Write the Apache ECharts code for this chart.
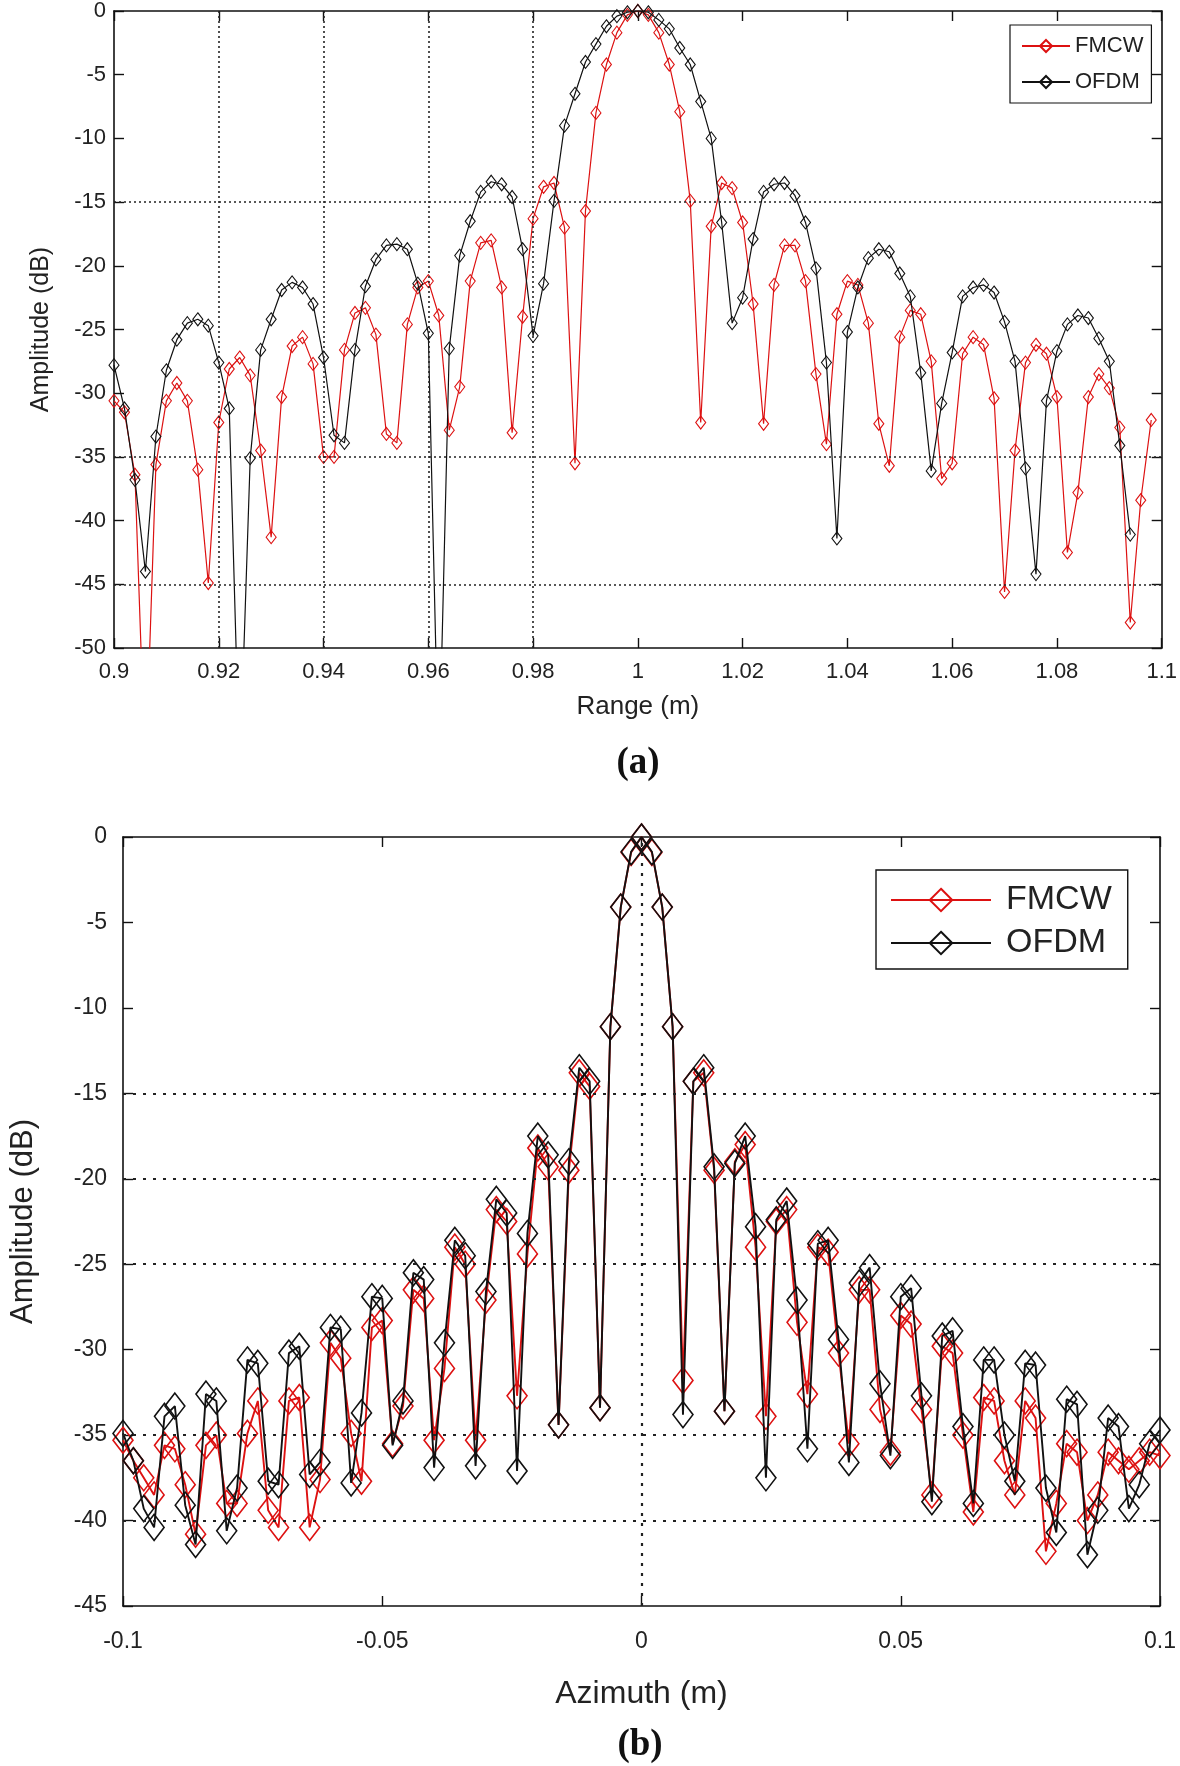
<!DOCTYPE html>
<html>
<head>
<meta charset="utf-8">
<script src="https://cdn.jsdelivr.net/npm/echarts@6/dist/echarts.min.js"></script>
<style>
html,body{margin:0;padding:0;background:#fff;}
#chart{width:1180px;height:1766px;}
</style>
</head>
<body>
<div id="chart"></div>
<script>
// ---------- (a) Range profile ----------
const rangeM = [0.9,0.902,0.904,0.906,0.908,0.91,0.912,0.914,0.916,0.918,0.92,0.922,0.924,0.926,0.928,0.93,0.932,0.934,0.936,0.938,0.94,0.942,0.944,0.946,0.948,0.95,0.952,0.954,0.956,0.958,0.96,0.962,0.964,0.966,0.968,0.97,0.972,0.974,0.976,0.978,0.98,0.982,0.984,0.986,0.988,0.99,0.992,0.994,0.996,0.998,1,1.002,1.004,1.006,1.008,1.01,1.012,1.014,1.016,1.018,1.02,1.022,1.024,1.026,1.028,1.03,1.032,1.034,1.036,1.038,1.04,1.042,1.044,1.046,1.048,1.05,1.052,1.054,1.056,1.058,1.06,1.062,1.064,1.066,1.068,1.07,1.072,1.074,1.076,1.078,1.08,1.082,1.084,1.086,1.088,1.09,1.092,1.094,1.096,1.098,1.1];
const fmcwRange = [-30.6,-31.5,-36.4,-60,-35.6,-30.6,-29.2,-30.6,-36.0,-44.9,
 -32.3,-28.1,-27.2,-28.6,-34.5,-41.3,-30.3,-26.3,-25.6,-27.7,
 -35.0,-35.0,-26.6,-23.7,-23.3,-25.4,-33.2,-33.9,-24.6,-21.7,
 -21.2,-23.9,-32.9,-29.5,-21.2,-18.2,-18.0,-21.7,-33.1,-24.0,
 -16.3,-13.8,-13.5,-17.0,-35.5,-15.7,-8.0,-4.2,-1.7,-0.3,
 0,-0.3,-1.7,-4.2,-7.9,-14.9,-32.3,-16.9,-13.5,-13.9,
 -16.6,-23.0,-32.4,-21.5,-18.4,-18.4,-21.2,-28.5,-34.0,-23.8,
 -21.2,-21.5,-24.5,-32.4,-35.7,-25.6,-23.5,-23.8,-27.5,-36.7,
 -35.5,-26.9,-25.6,-26.2,-30.4,-45.6,-34.5,-27.6,-26.2,-26.9,
 -30.3,-42.5,-37.8,-30.3,-28.5,-29.6,-32.7,-48.0,-38.4,-32.1];
const ofdmRange = [-27.8,-31.2,-36.8,-44.0,-33.4,-28.2,-25.8,-24.5,-24.2,-24.7,
 -27.6,-31.2,-60,-35.1,-26.6,-24.2,-21.9,-21.3,-21.7,-23.0,
 -27.2,-33.3,-33.9,-26.6,-21.6,-19.5,-18.4,-18.3,-18.7,-21.4,
 -25.3,-60,-26.5,-19.2,-16.5,-14.2,-13.4,-13.6,-14.6,-18.7,
 -25.5,-21.4,-14.9,-9.0,-6.5,-4.0,-2.6,-1.2,-0.4,-0.1,
 0,-0.1,-0.7,-1.4,-2.9,-4.2,-7.1,-10.0,-16.6,-24.5,
 -22.5,-17.9,-14.2,-13.6,-13.5,-14.5,-16.6,-20.2,-27.6,-41.4,
 -25.2,-21.7,-19.4,-18.7,-18.9,-20.6,-22.4,-28.4,-36.1,-30.8,
 -26.8,-22.4,-21.7,-21.5,-22.1,-24.4,-27.5,-35.9,-44.2,-30.6,
 -26.7,-24.6,-23.9,-24.1,-25.7,-27.5,-34.1,-41.1];
const rangeGridX = [0.92,0.94,0.96,0.98];      // dotted verticals
const rangeGridY = [-15,-35,-45];              // dotted horizontals

// ---------- (b) Azimuth profile ----------
const azimuthM = [-0.1,-0.098,-0.096,-0.094,-0.092,-0.09,-0.088,-0.086,-0.084,-0.082,-0.08,-0.078,-0.076,-0.074,-0.072,-0.07,-0.068,-0.066,-0.064,-0.062,-0.06,-0.058,-0.056,-0.054,-0.052,-0.05,-0.048,-0.046,-0.044,-0.042,-0.04,-0.038,-0.036,-0.034,-0.032,-0.03,-0.028,-0.026,-0.024,-0.022,-0.02,-0.018,-0.016,-0.014,-0.012,-0.01,-0.008,-0.006,-0.004,-0.002,0,0.002,0.004,0.006,0.008,0.01,0.012,0.014,0.016,0.018,0.02,0.022,0.024,0.026,0.028,0.03,0.032,0.034,0.036,0.038,0.04,0.042,0.044,0.046,0.048,0.05,0.052,0.054,0.056,0.058,0.06,0.062,0.064,0.066,0.068,0.07,0.072,0.074,0.076,0.078,0.08,0.082,0.084,0.086,0.088,0.09,0.092,0.094,0.096,0.098,0.1];
const fmcwAz = [-35.3,-36.5,-37.5,-38.5,-35.6,-35.8,-37.9,-40.8,-35.6,-35.0,
 -39.0,-39.0,-34.9,-33.0,-39.4,-40.4,-33.0,-32.8,-40.4,-37.6,
 -29.6,-30.5,-34.9,-37.7,-28.7,-28.3,-35.5,-33.3,-26.5,-27.0,
 -35.3,-31.1,-24.0,-25.0,-35.3,-27.1,-21.8,-22.5,-32.7,-24.4,
 -18.2,-19.3,-34.4,-19.5,-13.8,-14.6,-33.4,-11.1,-4.1,-0.9,
 0,-0.9,-4.1,-11.1,-31.8,-14.3,-13.8,-19.5,-33.6,-19.0,
 -18.0,-24.0,-33.9,-22.5,-21.8,-28.4,-32.6,-24.0,-24.3,-30.2,
 -35.5,-26.5,-26.5,-33.5,-36.0,-28.0,-28.5,-33.5,-38.5,-29.8,
 -30.2,-35.0,-39.5,-32.8,-33.0,-36.5,-38.5,-33.0,-34.0,-41.8,
 -39.0,-35.5,-36.0,-40.0,-38.5,-36.0,-36.5,-37.0,-36.5,-36.0,-36.2];
const ofdmAz = [-34.9,-36.5,-39.3,-40.4,-33.9,-33.3,-39.1,-41.4,-32.6,-33.0,
 -40.6,-38.1,-30.6,-30.8,-37.7,-37.9,-30.2,-29.8,-37.3,-36.6,
 -28.7,-28.8,-37.8,-33.7,-26.9,-27.0,-35.6,-33.0,-25.5,-25.9,
 -36.9,-29.6,-23.6,-24.5,-36.8,-26.6,-21.2,-22.0,-37.1,-23.2,
 -17.5,-18.6,-34.4,-19.0,-13.5,-14.3,-33.4,-11.1,-4.1,-0.86,
 0,-0.86,-4.1,-11.1,-33.8,-14.3,-13.5,-19.3,-33.6,-19.1,
 -17.5,-22.8,-37.5,-22.4,-21.3,-27.1,-35.8,-23.8,-23.6,-29.4,
 -36.6,-26.1,-25.2,-32.0,-36.2,-26.9,-26.4,-32.7,-38.9,-29.2,
 -28.9,-34.5,-39.0,-30.6,-30.6,-35.0,-37.7,-30.8,-30.9,-38.1,
 -40.7,-32.9,-33.2,-42.0,-39.4,-34.0,-34.5,-39.3,-37.9,-35.5,-34.7];
const azGridX = [0];
const azGridY = [-15,-20,-25,-35,-40];

const RED = '#dd1111', BLACK = '#111111';
const FONT = '"Liberation Sans", Arial, sans-serif';
const TXT = '#222';

function zip(xs, ys){ return ys.map((v,i)=>[xs[i], v]); }

const chart = echarts.init(document.getElementById('chart'), null, {renderer:'canvas', width:1180, height:1766});

function axisCommon(gridIndex, min, max, interval, pos, showLabel, labelSize, margin, name, nameSize, nameGap){
  return {
    type:'value', gridIndex, min, max, interval, position:pos,
    axisLine:{show:true, onZero:false, lineStyle:{color:'#111', width:1.6}},
    axisTick:{show:true, inside:true, length:10, lineStyle:{color:'#111', width:1.4}},
    axisLabel:{show:showLabel, fontSize:labelSize, color:TXT, fontFamily:FONT, margin},
    splitLine:{show:false},
    name: name || '', nameLocation:'middle', nameGap: nameGap || 0,
    nameTextStyle:{fontSize:nameSize||12, color:TXT, fontFamily:FONT}
  };
}

function lineSeries(name, xi, yi, xs, ys, color, symSize, lw, bw, z){
  return {
    name, type:'line', xAxisIndex:xi, yAxisIndex:yi, data:zip(xs, ys),
    symbol:'diamond', symbolSize:symSize, showAllSymbol:true, clip:true,
    lineStyle:{color, width:lw}, z,
    itemStyle:{color:'rgba(255,255,255,0)', borderColor:color, borderWidth:bw},
    emphasis:{disabled:true}, animation:false
  };
}
function dotted(xi, yi, xsv, ysv, dash, w){
  return {
    type:'line', xAxisIndex:xi, yAxisIndex:yi, data:[], silent:true, z:1,
    markLine:{silent:true, symbol:'none', animation:false,
      lineStyle:{color:'#222', type:dash, width:w},
      label:{show:false},
      data: xsv.map(v=>({xAxis:v})).concat(ysv.map(v=>({yAxis:v})))}
  };
}

const option = {
  backgroundColor:'#fff',
  animation:false,
  grid:[
    {left:114, top:10, width:1053, height:638},
    {left:122, top:837, width:1038, height:769}
  ],
  xAxis:[
    axisCommon(0, 0.9, 1.1, 0.02, 'bottom', true, 22, 13, 'Range (m)', 26, 46),
    axisCommon(0, 0.9, 1.1, 0.02, 'top', false, 12, 8),
    axisCommon(1, -0.1, 0.1, 0.05, 'bottom', true, 23, 24, 'Azimuth (m)', 32, 72),
    axisCommon(1, -0.1, 0.1, 0.05, 'top', false, 12, 8)
  ],
  yAxis:[
    axisCommon(0, -50, 0, 5, 'left', true, 22, 8, 'Amplitude (dB)', 25, 60),
    axisCommon(0, -50, 0, 5, 'right', false, 12, 8),
    axisCommon(1, -45, 0, 5, 'left', true, 23, 16, 'Amplitude (dB)', 31, 84),
    axisCommon(1, -45, 0, 5, 'right', false, 12, 8)
  ],
  legend:[
    {data:['FMCW a','OFDM a'], orient:'vertical', left:1010, top:25,
     itemWidth:48, itemHeight:15, itemGap:14, padding:[10,8,10,11],
     borderColor:'#111', borderWidth:1.2, backgroundColor:'#fff',
     formatter:n=>n.split(' ')[0],
     textStyle:{fontSize:22, color:TXT, fontFamily:FONT}},
    {data:['FMCW b','OFDM b'], orient:'vertical', left:876, top:870,
     itemWidth:100, itemHeight:28, itemGap:9, padding:[13,16,9,14],
     borderColor:'#111', borderWidth:1.4, backgroundColor:'#fff',
     formatter:n=>n.split(' ')[0],
     textStyle:{fontSize:34, color:TXT, fontFamily:FONT, padding:[0,0,0,10]}}
  ],
  graphic:[
    {type:'text', x:638, y:763, style:{text:'(a)', textAlign:'center', textVerticalAlign:'middle', font:'bold 37px "Liberation Serif", "Times New Roman", serif', fill:'#111'}},
    {type:'text', x:640, y:1745, style:{text:'(b)', textAlign:'center', textVerticalAlign:'middle', font:'bold 37px "Liberation Serif", "Times New Roman", serif', fill:'#111'}}
  ],
  series:[
    dotted(0, 0, rangeGridX, rangeGridY, [2,3], 1.6),
    dotted(2, 2, azGridX, azGridY, [3,7], 2.2),
    lineSeries('FMCW a', 0, 0, rangeM, fmcwRange, RED, [10,13], 1.2, 1.1, 3),
    lineSeries('OFDM a', 0, 0, rangeM, ofdmRange, BLACK, [10,13], 1.2, 1.1, 4),
    lineSeries('FMCW b', 2, 2, azimuthM, fmcwAz, RED, [20,26], 1.9, 1.6, 3),
    lineSeries('OFDM b', 2, 2, azimuthM, ofdmAz, BLACK, [20,26], 1.9, 1.6, 4)
  ]
};
chart.setOption(option);
</script>
</body>
</html>
